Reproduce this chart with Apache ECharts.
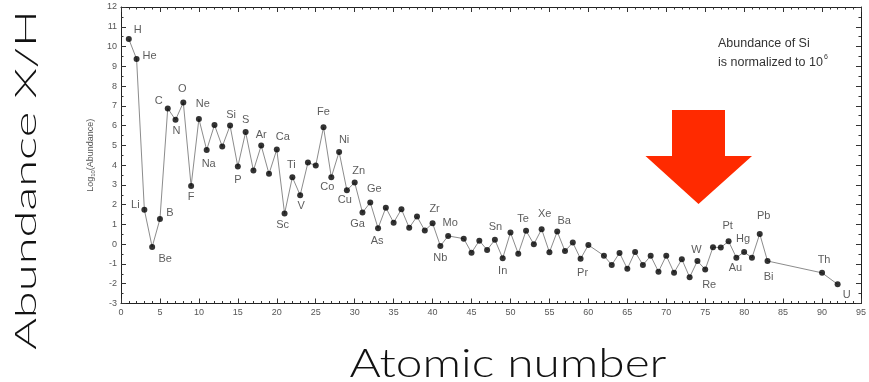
<!DOCTYPE html>
<html>
<head>
<meta charset="utf-8">
<script src="https://cdn.jsdelivr.net/npm/echarts@6/dist/echarts.min.js"></script>
<style>
  html, body { margin: 0; padding: 0; background: #fff; }
  #chart { width: 869px; height: 382px; }
</style>
</head>
<body>
<div id="chart"></div>
<script>
// Solar-system abundances, log10 scale, Si normalised to 10^6
const atomicNumbers = [
  1, 2, 3, 4, 5, 6, 7, 8, 9, 10, 11, 12, 13, 14, 15, 16, 17, 18, 19, 20,
  21, 22, 23, 24, 25, 26, 27, 28, 29, 30, 31, 32, 33, 34, 35, 36, 37, 38, 39, 40,
  41, 42, 44, 45, 46, 47, 48, 49, 50, 51, 52, 53, 54, 55, 56, 57, 58, 59, 60,
  62, 63, 64, 65, 66, 67, 68, 69, 70, 71, 72, 73, 74, 75, 76, 77, 78, 79, 80,
  81, 82, 83, 90, 92
];
const elementSymbols = [
  'H', 'He', 'Li', 'Be', 'B', 'C', 'N', 'O', 'F', 'Ne', 'Na', 'Mg', 'Al', 'Si', 'P', 'S', 'Cl', 'Ar', 'K', 'Ca',
  'Sc', 'Ti', 'V', 'Cr', 'Mn', 'Fe', 'Co', 'Ni', 'Cu', 'Zn', 'Ga', 'Ge', 'As', 'Se', 'Br', 'Kr', 'Rb', 'Sr', 'Y', 'Zr',
  'Nb', 'Mo', 'Ru', 'Rh', 'Pd', 'Ag', 'Cd', 'In', 'Sn', 'Sb', 'Te', 'I', 'Xe', 'Cs', 'Ba', 'La', 'Ce', 'Pr', 'Nd',
  'Sm', 'Eu', 'Gd', 'Tb', 'Dy', 'Ho', 'Er', 'Tm', 'Yb', 'Lu', 'Hf', 'Ta', 'W', 'Re', 'Os', 'Ir', 'Pt', 'Au', 'Hg',
  'Tl', 'Pb', 'Bi', 'Th', 'U'
];
const logAbundance = [
  10.38, 9.37, 1.74, -0.14, 1.27, 6.87, 6.29, 7.17, 2.94, 6.34, 4.77, 6.03, 4.94, 6.00, 3.93, 5.67, 3.73, 4.99, 3.56, 4.79,
  1.55, 3.39, 2.48, 4.13, 3.98, 5.92, 3.39, 4.67, 2.73, 3.12, 1.60, 2.11, 0.81, 1.85, 1.09, 1.77, 0.83, 1.40, 0.69, 1.06,
  -0.09, 0.42, 0.28, -0.43, 0.18, -0.29, 0.22, -0.71, 0.59, -0.48, 0.68, 0.00, 0.76, -0.41, 0.64, -0.35, 0.08, -0.74, -0.04,
  -0.58, -1.05, -0.44, -1.24, -0.39, -1.05, -0.59, -1.39, -0.58, -1.44, -0.76, -1.67, -0.85, -1.28, -0.15, -0.17, 0.15, -0.68, -0.39,
  -0.69, 0.52, -0.85, -1.45, -2.03
];
const labeledElements = [
  'H', 'He', 'Li', 'Be', 'B', 'C', 'N', 'O', 'F', 'Ne', 'Na', 'Si', 'P', 'S', 'Ar', 'Ca', 'Sc', 'Ti', 'V', 'Fe',
  'Co', 'Ni', 'Cu', 'Zn', 'Ga', 'Ge', 'As', 'Zr', 'Nb', 'Mo', 'Sn', 'In', 'Te', 'Xe', 'Ba', 'Pr', 'W', 'Re',
  'Pt', 'Au', 'Hg', 'Pb', 'Bi', 'Th', 'U'
];
const xTicks = { min: 0, max: 95, step: 5 };
const yTicks = { min: -3, max: 12, step: 1 };

// Pixel offsets of each element label from its dot (placement only)
const labelOffsets = {
  H: [9, -9], He: [13, -3], Li: [-9, -5], Be: [13, 12], B: [10, -6], C: [-9, -7], N: [1, 11], O: [-1, -14],
  F: [0, 11], Ne: [4, -15], Na: [2, 14], Si: [1, -11], P: [0, 13], S: [0, -12], Ar: [0, -11], Ca: [6, -13],
  Sc: [-2, 11], Ti: [-1, -12], V: [1, 11], Fe: [0, -15], Co: [-4, 10], Ni: [5, -12], Cu: [-2, 10], Zn: [4, -12],
  Ga: [-5, 11], Ge: [4, -14], As: [-1, 13], Zr: [2, -14], Nb: [0, 12], Mo: [2, -13], Sn: [-15, -6], In: [0, 13],
  Te: [-3, -12], Xe: [3, -15], Ba: [7, -11], Pr: [2, 14], W: [-1, -11], Re: [4, 15], Pt: [-1, -15], Au: [-1, 10],
  Hg: [-1, -13], Pb: [4, -18], Bi: [1, 16], Th: [2, -13], U: [9, 11]
};

const points = atomicNumbers.map((z, i) => [z, logAbundance[i]]);
const dots = atomicNumbers.map((z, i) => {
  const sym = elementSymbols[i];
  const item = { name: sym, value: [z, logAbundance[i]] };
  if (labeledElements.includes(sym)) {
    item.label = { show: true, position: 'inside', offset: labelOffsets[sym] || [0, -12], formatter: '{b}' };
  }
  return item;
});

const chart = echarts.init(document.getElementById('chart'), null, { renderer: 'canvas' });

// Width of a string in a given CSS font
function textWidth(text, font) {
  const ctx = document.createElement('canvas').getContext('2d');
  ctx.font = font;
  return ctx.measureText(text).width;
}
// Scale factor so a text string spans a given length
function fitScale(text, font, target) {
  return target / textWidth(text, font);
}

const tickFont = 'Liberation Sans, Arial, sans-serif';
const noteFont = '12.5px Liberation Sans, Arial, sans-serif';
const bigFontA = '300 30px Lato, sans-serif';
const bigFontB = '300 40px Lato, sans-serif';
const noteLine2 = 'is normalized to 10';
const noteX = 718;

const baseAxis = {
  axisLine: { show: true, onZero: false, lineStyle: { color: '#222', width: 1 } },
  axisTick: { show: true, inside: true, length: 5, lineStyle: { color: '#333' } },
  splitLine: { show: false }
};

chart.setOption({
  animation: false,
  backgroundColor: '#fff',
  grid: { left: 121, right: 6, top: 7, bottom: 78.5 },
  xAxis: [
    Object.assign({}, baseAxis, {
      type: 'value', min: xTicks.min, max: xTicks.max, interval: xTicks.step, position: 'bottom',
      minorTick: { show: true, splitNumber: 5, length: 2.5, lineStyle: { color: '#333' } },
      axisLabel: { margin: 5, fontSize: 9, color: '#555', fontFamily: tickFont }
    }),
    Object.assign({}, baseAxis, {
      type: 'value', min: xTicks.min, max: xTicks.max, interval: xTicks.step, position: 'top',
      minorTick: { show: true, splitNumber: 5, length: 2.5, lineStyle: { color: '#333' } },
      axisLabel: { show: false }
    })
  ],
  yAxis: [
    Object.assign({}, baseAxis, {
      type: 'value', min: yTicks.min, max: yTicks.max, interval: yTicks.step, position: 'left',
      minorTick: { show: true, splitNumber: 2, length: 2.5, lineStyle: { color: '#333' } },
      axisLabel: { margin: 4, fontSize: 9, color: '#555', fontFamily: tickFont },
      name: '{n|Log}{s|10}{n|(Abundance)}',
      nameLocation: 'middle', nameRotate: 90, nameGap: 22,
      nameTextStyle: {
        color: '#555', fontFamily: tickFont,
        rich: {
          n: { fontSize: 9, lineHeight: 12, fontFamily: tickFont, color: '#555' },
          s: { fontSize: 6, lineHeight: 12, verticalAlign: 'bottom', fontFamily: tickFont, color: '#555' }
        }
      }
    }),
    Object.assign({}, baseAxis, {
      type: 'value', min: yTicks.min, max: yTicks.max, interval: yTicks.step, position: 'right',
      minorTick: { show: true, splitNumber: 2, length: 2.5, lineStyle: { color: '#333' } },
      axisLabel: { show: false }
    })
  ],
  series: [
    {
      type: 'line', data: points, showSymbol: false, silent: true,
      lineStyle: { color: '#8c8c8c', width: 1 }, z: 2
    },
    {
      type: 'scatter', data: dots, symbol: 'circle', symbolSize: 6,
      itemStyle: { color: '#000' }, z: 3,
      label: { show: false, color: '#333', fontSize: 11, fontFamily: tickFont }
    }
  ],
  graphic: [
    {
      type: 'text', x: noteX, y: 44,
      style: { text: 'Abundance of Si', font: noteFont, fill: '#333', verticalAlign: 'middle' }
    },
    {
      type: 'text', x: noteX, y: 63,
      style: { text: noteLine2, font: noteFont, fill: '#333', verticalAlign: 'middle' }
    },
    {
      type: 'text', x: noteX + textWidth(noteLine2, noteFont) + 1, y: 57,
      style: { text: '6', font: '7px Liberation Sans, Arial, sans-serif', fill: '#333', verticalAlign: 'middle' }
    },
    {
      type: 'polygon', z: 10,
      shape: { points: [[672, 110], [725, 110], [725, 156], [752, 156], [698.5, 204], [645.5, 156], [672, 156]] },
      style: { fill: '#ff2a00' }
    },
    {
      type: 'text', x: 26, y: 180, rotation: Math.PI / 2,
      scaleX: fitScale('Abundance X/H', bigFontA, 340),
      style: { text: 'Abundance X/H', font: bigFontA, fill: '#111', align: 'center', verticalAlign: 'middle' }
    },
    {
      type: 'text', x: 508, y: 364,
      scaleX: fitScale('Atomic number', bigFontB, 317),
      style: { text: 'Atomic number', font: bigFontB, fill: '#111', align: 'center', verticalAlign: 'middle' }
    }
  ]
});
</script>
</body>
</html>
